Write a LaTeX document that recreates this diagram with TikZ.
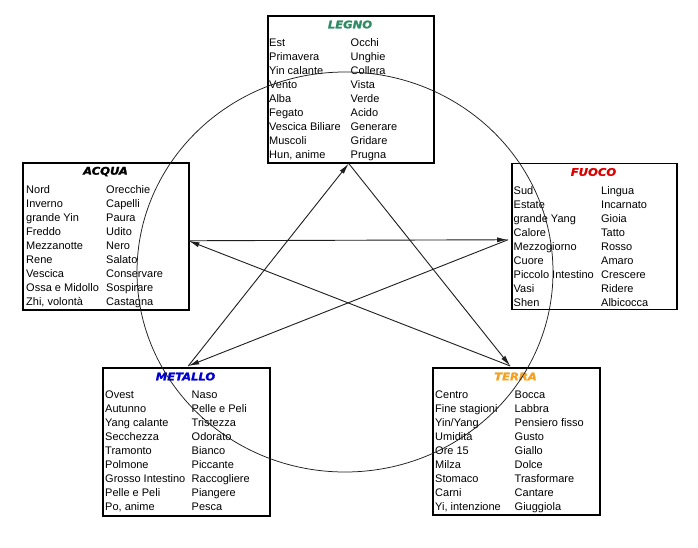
\documentclass[tikz,border=0pt]{standalone}
\usepackage{fontspec}
\setmainfont{Liberation Sans}
\newfontfamily\titlefont[FakeStretch=1.1, BoldItalicFeatures={FakeBold=1.6}]{DejaVu Sans}
\usetikzlibrary{arrows.meta,calc}
\definecolor{legnoc}{RGB}{46,139,100}
\definecolor{fuococ}{RGB}{220,0,0}
\definecolor{metalloc}{RGB}{0,0,210}
\definecolor{terrac}{RGB}{245,160,30}
\definecolor{linec}{RGB}{30,30,30}
\newcommand\twocol[2]{\begin{tabular}{@{}p{#1}@{}l@{}}#2\end{tabular}}
\tikzset{
  elbox/.style={draw=black, line width=1.5pt, inner sep=0pt, minimum width=166pt, minimum height=147pt, anchor=north west},
  eltitle/.style={font=\titlefont\fontsize{10.5}{12}\selectfont\bfseries\itshape, inner sep=0pt, anchor=center},
  eltext/.style={font=\fontsize{11}{14.05}\selectfont, inner sep=0pt, anchor=north west},
  conn/.style={draw=linec, line width=0.9pt, -{Latex[length=11pt,width=5pt]}},
  ring/.style={draw=linec, line width=0.75pt},
}
\begin{document}
\begin{tikzpicture}[x=1pt,y=-1pt]
\useasboundingbox (0,0) rectangle (698,547);
\fill[white] (0,0) rectangle (698,547);

% boxes
\node[elbox] (legno) at (267,15) {};
\node[elbox] (acqua) at (22,162) {};
\node[elbox, minimum width=165pt, minimum height=146pt] (fuoco) at (511,162.5) {};
\node[elbox, minimum width=167pt, minimum height=148pt] (metallo) at (102,367) {};
\node[elbox, minimum width=167pt] (terra) at (432,367) {};

% titles
\node[eltitle, text=legnoc] (legnoT) at (350,24.5) {LEGNO};
\node[eltitle, text=black] (acquaT) at (105.5,171.5) {ACQUA};
\node[eltitle, text=fuococ] (fuocoT) at (593.5,172) {FUOCO};
\node[eltitle, text=metalloc] (metalloT) at (185.5,376.5) {METALLO};
\node[eltitle, text=terrac] (terraT) at (515.5,376.5) {TERRA};

% tables
\node[eltext] (legnoX) at (269,36.5) {\twocol{81.5pt}{%
Est & Occhi\\ Primavera & Unghie\\ Yin calante & Collera\\ Vento & Vista\\ Alba & Verde\\ Fegato & Acido\\ Vescica Biliare & Generare\\ Muscoli & Gridare\\ Hun, anime & Prugna}};
\node[eltext] (acquaX) at (26,183.5) {\twocol{80pt}{%
Nord & Orecchie\\ Inverno & Capelli\\ grande Yin & Paura\\ Freddo & Udito\\ Mezzanotte & Nero\\ Rene & Salato\\ Vescica & Conservare\\ Ossa e Midollo & Sospirare\\ Zhi, volontà & Castagna}};
\node[eltext] (fuocoX) at (513.5,184) {\twocol{87.5pt}{%
Sud & Lingua\\ Estate & Incarnato\\ grande Yang & Gioia\\ Calore & Tatto\\ Mezzogiorno & Rosso\\ Cuore & Amaro\\ Piccolo Intestino & Crescere\\ Vasi & Ridere\\ Shen & Albicocca}};
\node[eltext] (metalloX) at (105,388.5) {\twocol{86.5pt}{%
Ovest & Naso\\ Autunno & Pelle e Peli\\ Yang calante & Tristezza\\ Secchezza & Odorato\\ Tramonto & Bianco\\ Polmone & Piccante\\ Grosso Intestino & Raccogliere\\ Pelle e Peli & Piangere\\ Po, anime & Pesca}};
\node[eltext] (terraX) at (435,388.5) {\twocol{79.5pt}{%
Centro & Bocca\\ Fine stagioni & Labbra\\ Yin/Yang & Pensiero fisso\\ Umidità & Gusto\\ Ore 15 & Giallo\\ Milza & Dolce\\ Stomaco & Trasformare\\ Carni & Cantare\\ Yi, intenzione & Giuggiola}};

% ring
\draw[ring] (345,272) ellipse [x radius=208pt, y radius=200pt];

% star connector points
\coordinate (pL) at ($(legno.south)+(-2,0)$);
\coordinate (pA) at ($(acqua.east)+(-1,4.5)$);
\coordinate (pF) at ($(fuoco.west)+(-3,3.5)$);
\coordinate (pM) at ($(metallo.north)+(2,-1)$);
\coordinate (pT) at ($(terra.north)+(-6,-1)$);

\draw[conn] (pL) -- (pT);
\draw[conn] (pT) -- (pA);
\draw[conn] (pA) -- (pF);
\draw[conn] (pF) -- (pM);
\draw[conn] (pM) -- (pL);
\end{tikzpicture}
\end{document}
